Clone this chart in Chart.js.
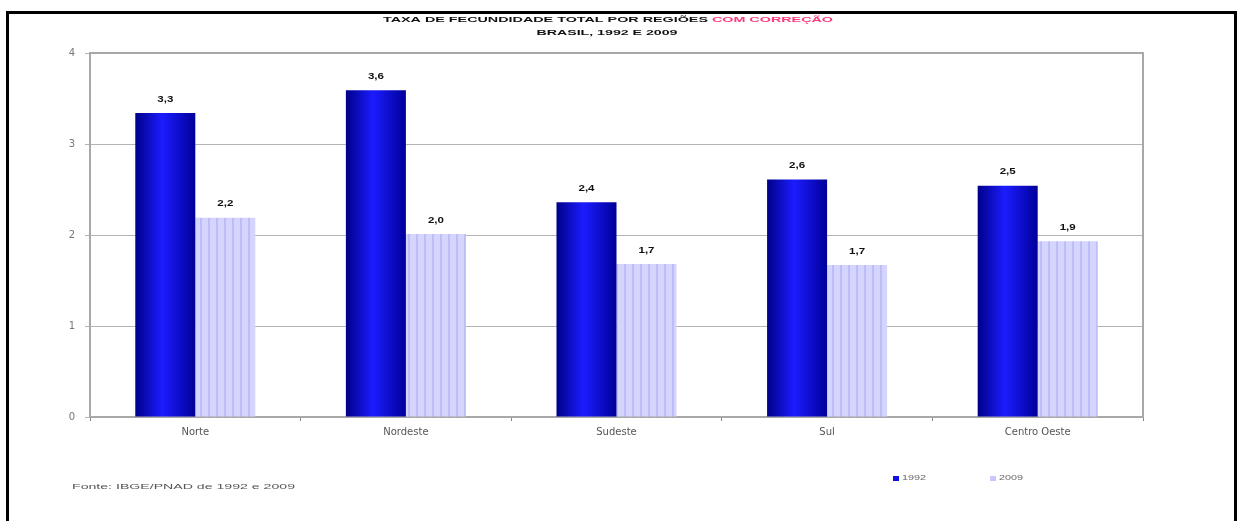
<!DOCTYPE html>
<html>
<head>
<meta charset="utf-8">
<script src="https://cdn.jsdelivr.net/npm/chart.js@4"></script>
<style>
  html, body { margin: 0; padding: 0; background: #fff; }
  #wrap { position: relative; width: 1239px; height: 521px; overflow: hidden; }
  #frame {
    position: absolute; left: 6px; top: 11px; width: 1225px; height: 530px;
    border: 3px solid #000; border-bottom: none; pointer-events: none;
  }
</style>
</head>
<body>
<div id="wrap">
  <canvas id="tfChart" width="1239" height="521"></canvas>
  <div id="frame"></div>
</div>
<script>
const regioes = ['Norte', 'Nordeste', 'Sudeste', 'Sul', 'Centro Oeste'];
const anos = ['1992', '2009'];
const taxa1992 = [3.34, 3.59, 2.36, 2.61, 2.54];
const taxa2009 = [2.19, 2.01, 1.68, 1.67, 1.93];
const yTicks = [0, 1, 2, 3, 4];

const tituloPreto = 'TAXA DE FECUNDIDADE TOTAL POR REGIÕES ';
const tituloRosa = 'COM CORREÇÃO';
const subtitulo = 'BRASIL, 1992 E 2009';
const fonte = 'Fonte: IBGE/PNAD de 1992 e 2009';

const canvas = document.getElementById('tfChart');
const ctx = canvas.getContext('2d');

// vertical stripes for the 2009 bars
function stripePattern() {
  const p = document.createElement('canvas');
  p.width = 8; p.height = 8;
  const pc = p.getContext('2d');
  pc.fillStyle = '#d4d4ff';
  pc.fillRect(0, 0, 8, 8);
  pc.fillStyle = '#bebef6';
  pc.fillRect(0, 0, 2, 8);
  return ctx.createPattern(p, 'repeat');
}
const listras = stripePattern();

// text squeezed/stretched horizontally to a given width
function stretchText(c, text, x, y, width, align) {
  const w = c.measureText(text).width;
  const sx = width / w;
  c.save();
  c.translate(x, y);
  c.scale(sx, 1);
  c.textAlign = align;
  c.fillText(text, 0, 0);
  c.restore();
}

// shaded fill for the 1992 bars, per bar
const barShading = {
  id: 'barShading',
  beforeDatasetsDraw(chart) {
    const meta = chart.getDatasetMeta(0);
    meta.data.forEach(bar => {
      const left = bar.x - bar.width / 2;
      const g = chart.ctx.createLinearGradient(left, 0, left + bar.width, 0);
      g.addColorStop(0, '#00008a');
      g.addColorStop(0.45, '#1c1cff');
      g.addColorStop(1, '#00009a');
      bar.options = Object.assign({}, bar.options, { backgroundColor: g });
    });
  }
};

const extras = {
  id: 'extras',
  afterDatasetsDraw(chart) {
    const c = chart.ctx;
    const area = chart.chartArea;
    // plot frame top/right
    c.save();
    c.strokeStyle = '#a8a8a8';
    c.lineWidth = 2;
    c.beginPath();
    c.moveTo(area.left, area.top);
    c.lineTo(area.right, area.top);
    c.lineTo(area.right, area.bottom);
    c.stroke();
    c.restore();

    // value labels
    c.save();
    c.font = 'bold 9px "Liberation Sans", Arial, sans-serif';
    c.fillStyle = '#111';
    c.textBaseline = 'middle';
    chart.data.datasets.forEach((ds, di) => {
      chart.getDatasetMeta(di).data.forEach((bar, i) => {
        const txt = ds.data[i].toFixed(1).replace('.', ',');
        stretchText(c, txt, bar.x, bar.y - 14, 16, 'center');
      });
    });
    c.restore();
  },
  afterDraw(chart) {
    const c = chart.ctx;
    c.save();
    c.textBaseline = 'middle';
    // title
    c.font = 'bold 8px "Liberation Sans", Arial, sans-serif';
    const wB = c.measureText(tituloPreto).width;
    const wR = c.measureText(tituloRosa).width;
    const sx = 450 / (wB + wR);
    c.save();
    c.translate(608 - 225, 20);
    c.scale(sx, 1);
    c.textAlign = 'left';
    c.fillStyle = '#111';
    c.fillText(tituloPreto, 0, 0);
    c.fillStyle = '#ff3a7a';
    c.fillText(tituloRosa, wB, 0);
    c.restore();
    c.fillStyle = '#111';
    stretchText(c, subtitulo, 607, 33, 141, 'center');

    // source note
    c.font = '8px "Liberation Sans", Arial, sans-serif';
    c.fillStyle = '#555';
    stretchText(c, fonte, 72, 487, 223, 'left');

    // legend
    const lx = [893, 990];
    chart.data.datasets.forEach((ds, i) => {
      c.fillStyle = i === 0 ? '#1010e8' : '#c8c8ff';
      c.fillRect(lx[i], 476, 6, 5);
      c.fillStyle = '#666';
      c.font = '7px "Liberation Sans", Arial, sans-serif';
      stretchText(c, ds.label, lx[i] + 9, 478, 24, 'left');
    });
    c.restore();
  }
};

new Chart(ctx, {
  type: 'bar',
  data: {
    labels: regioes,
    datasets: [
      { label: anos[0], data: taxa1992, backgroundColor: '#1010e8', borderWidth: 0 },
      { label: anos[1], data: taxa2009, backgroundColor: listras, borderWidth: 0 }
    ]
  },
  options: {
    responsive: false,
    animation: false,
    devicePixelRatio: 1,
    layout: { padding: { left: 58, right: 96, top: 53, bottom: 73 } },
    plugins: {
      legend: { display: false },
      tooltip: { enabled: false },
      title: { display: false }
    },
    datasets: {
      bar: { categoryPercentage: 0.57, barPercentage: 1.0 }
    },
    scales: {
      x: {
        afterFit(s) { s.height = 31; },
        grid: { display: true, drawOnChartArea: false, offset: true, tickLength: 4, color: '#888', lineWidth: 1 },
        border: { color: '#a8a8a8', width: 2 },
        ticks: { color: '#555', padding: 5, font: { family: '"DejaVu Sans", sans-serif', size: 10 } }
      },
      y: {
        min: 0,
        max: 4,
        afterFit(s) { s.width = 32; },
        afterBuildTicks(s) { s.ticks = yTicks.map(v => ({ value: v })); },
        grid: { color: '#b4b4b4', lineWidth: 1, tickLength: 5 },
        border: { color: '#a8a8a8', width: 2 },
        ticks: { color: '#777', padding: 10, font: { family: '"DejaVu Sans", sans-serif', size: 10 } }
      }
    }
  },
  plugins: [barShading, extras]
});
</script>
</body>
</html>
